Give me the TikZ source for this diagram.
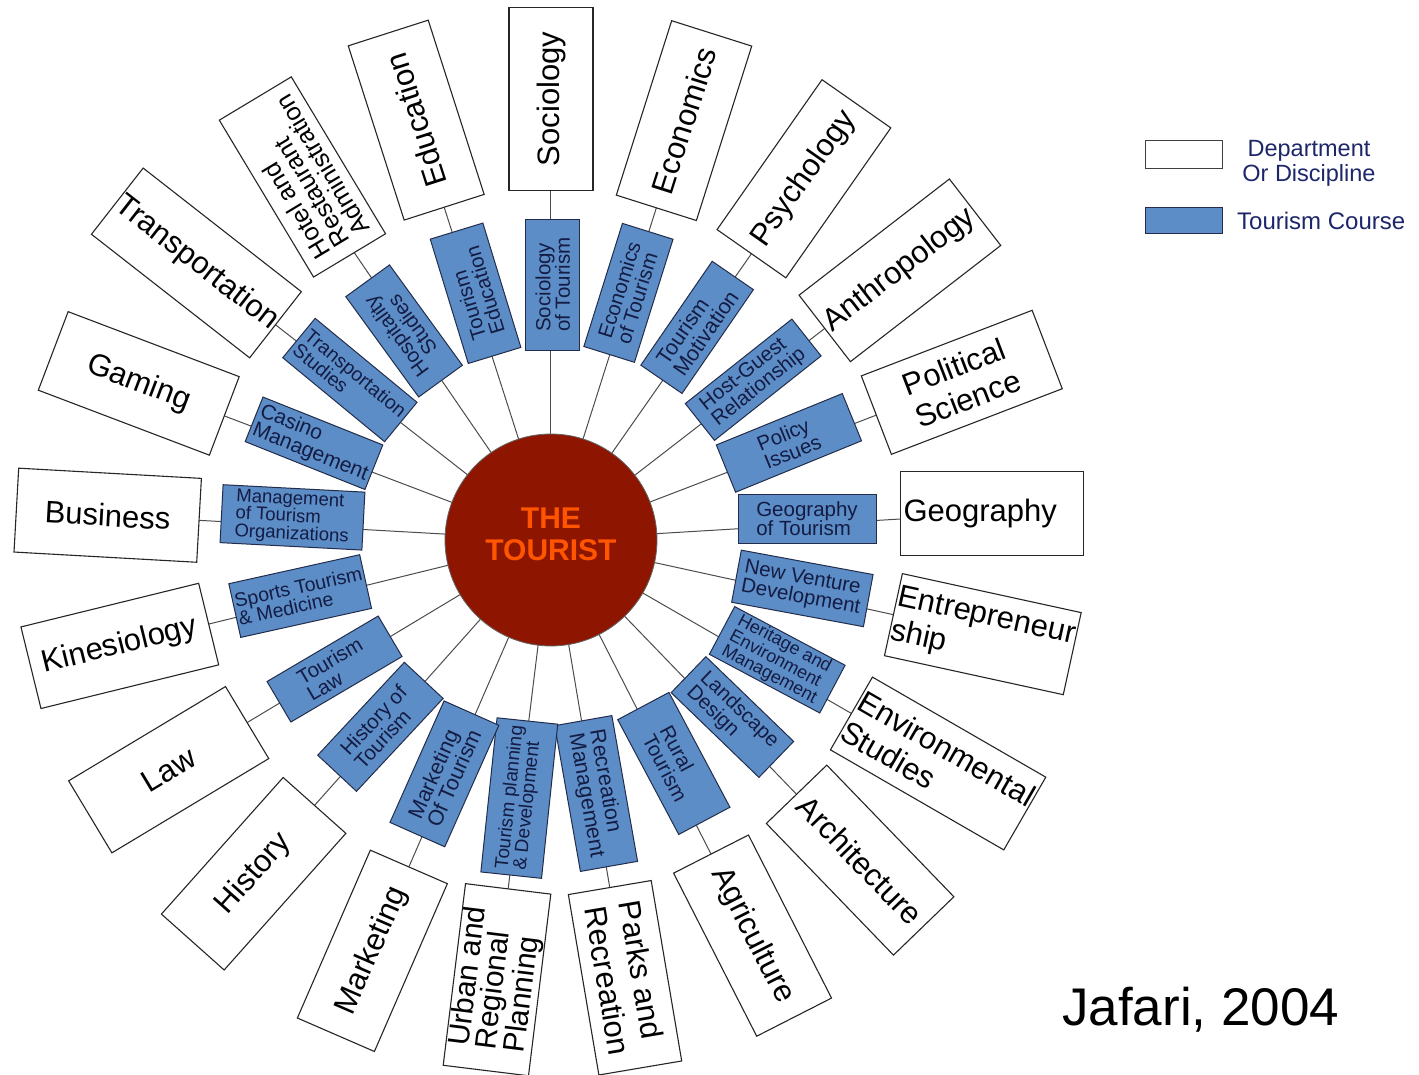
\documentclass[tikz,border=0pt]{standalone}
\usepackage{fontspec}
\setmainfont{Liberation Sans}
\definecolor{bfill}{RGB}{92,141,198}
\definecolor{bdraw}{RGB}{35,45,75}
\definecolor{btext}{RGB}{20,28,68}
\definecolor{tred}{RGB}{142,22,0}
\definecolor{torange}{RGB}{255,84,0}
\definecolor{legtext}{RGB}{28,38,105}
\pgfdeclarelayer{bg}
\pgfsetlayers{bg,main}
\tikzset{
  wbox/.style={draw=black!85, fill=white, line width=1.1pt, minimum width=183pt, minimum height=84pt,
    inner sep=1pt, align=left, font=\fontsize{31}{35}\selectfont, text=black},
  bbox/.style={draw=bdraw, fill=bfill, line width=1pt, minimum width=132pt, minimum height=53pt,
    inner sep=1pt, align=left, font=\fontsize{20.5}{19.5}\selectfont, text=btext},
  spokeline/.style={draw=black!70, line width=1pt},
  legtxt/.style={text=legtext, font=\fontsize{23.5}{25}\selectfont, align=center, inner sep=0pt},
}
\begin{document}
\begin{tikzpicture}[x=1pt,y=1pt]
\useasboundingbox (-551,-534) rectangle (868,540);

% centre
\node[circle, fill=tred, draw=black!60, line width=0.8pt, minimum size=212pt, inner sep=0pt] (c) at (0,0) {};
\node[text=torange, font=\bfseries\fontsize{30}{32}\selectfont, align=center, inner sep=0pt] (ct) at (0,6) {THE\\TOURIST};

% departments (white)
\node[wbox, rotate=90] (wsoc) at (90:441) {Sociology};
\node[wbox, rotate=72.4] (weco) at (72.4:440) {Economics};
\node[wbox, rotate=55] (wpsy) at (55:441) {Psychology};
\node[wbox, rotate=37.7, minimum width=190pt] (want) at (37.7:441) {Anthropology};
\node[wbox, rotate=21] (wpol) at (21:440) {Political\\Science};
\node[wbox, text width=177pt, inner xsep=3pt] (wgeo) at (441,26.5) {Geography};
\node[wbox, rotate=-12.3] (went) at (-12.3:442) {Entrepreneur\\ship};
\node[wbox, rotate=-30, minimum width=200pt] (wenv) at (-30:447) {Environmental\\Studies};
\node[wbox, rotate=-46] (warc) at (-46:445) {Architecture};
\node[wbox, rotate=-63] (wagr) at (-63:444) {Agriculture};
\node[wbox, rotate=-80.4] (wpar) at (-80.4:444) {Parks and\\Recreation};
\node[wbox, rotate=83, font=\fontsize{30}{27}\selectfont] (wurb) at (-97:443) {Urban and\\Regional\\Planning};
\node[wbox, rotate=66.5] (wmkt) at (-113.5:448) {Marketing};
\node[wbox, rotate=48.3] (whis) at (-131.7:447) {History};
\node[wbox, rotate=31] (wlaw) at (-149:446) {Law};
\node[wbox, rotate=13.8] (wkin) at (-166.2:444) {Kinesiology};
\node[wbox, rotate=-3.2] (wbus) at (176.8:444) {Business};
\node[wbox, rotate=-20.8] (wgam) at (159.2:441) {Gaming};
\node[wbox, rotate=-38, minimum width=196pt] (wtra) at (142:450) {Transportation};
\node[wbox, rotate=121, font=\fontsize{25}{23}\selectfont] (whot) at (124.4:440) {Hotel and\\Restaurant\\Administration};
\node[wbox, rotate=107.8] (wedu) at (107.8:441) {Education};

% tourism courses (blue)
\node[bbox, rotate=90, minimum width=131pt, minimum height=54pt] (bsoc) at (89.6:255.5) {Sociology\\of Tourism};
\node[bbox, rotate=72.6, minimum width=129pt] (beco) at (72.6:259) {Economics\\of Tourism};
\node[bbox, rotate=55.5, minimum width=126pt, minimum height=50pt, font=\fontsize{21.5}{20.5}\selectfont] (bpsy) at (55.5:258) {Tourism\\Motivation};
\node[bbox, rotate=38.4, minimum width=136pt, minimum height=47pt] (bant) at (38.4:258) {Host-Guest\\Relationship};
\node[bbox, rotate=22.2, minimum width=136pt, minimum height=51pt] (bpol) at (22.2:257) {Policy\\Issues};
\node[bbox, minimum width=138pt, minimum height=49pt] (bgeo) at (256,21.5) {Geography\\of Tourism};
\node[bbox, rotate=-10.5, minimum width=134pt] (bent) at (-10.9:256) {New Venture\\Development};
\node[bbox, rotate=-28, minimum width=125pt, minimum height=54pt, font=\fontsize{18}{16.5}\selectfont] (benv) at (-27.9:256) {Heritage and\\Environment\\Management};
\node[bbox, rotate=-44, minimum width=122pt, minimum height=50pt] (barc) at (-44.3:253.5) {Landscape\\Design};
\node[bbox, rotate=-62, minimum width=130pt, minimum height=58pt] (bagr) at (-61.2:255) {Rural\\Tourism};
\node[bbox, rotate=-80, minimum width=148pt, minimum height=58pt, font=\fontsize{21.5}{21}\selectfont] (bpar) at (-79.9:257.5) {Recreation\\Management};
\node[bbox, rotate=84, minimum width=155pt, minimum height=61pt, font=\fontsize{19}{18}\selectfont] (burb) at (-97:260) {Tourism planning\\\& Development};
\node[bbox, rotate=66, minimum width=133pt, minimum height=60pt, font=\fontsize{21.5}{20.5}\selectfont] (bmkt) at (-114.5:257) {Marketing\\Of Tourism};
\node[bbox, rotate=47, minimum width=127pt] (bhis) at (-132.4:253) {History of\\Tourism};
\node[bbox, rotate=30.5, minimum width=129pt, minimum height=47pt] (blaw) at (-149.2:252) {Tourism\\Law};
\node[bbox, rotate=12.5, minimum width=134pt, minimum height=55pt, font=\fontsize{19.5}{18.5}\selectfont] (bkin) at (-167.4:257) {Sports Tourism\\\& Medicine};
\node[bbox, rotate=-3, minimum width=142pt, minimum height=58pt, font=\fontsize{18.5}{17.5}\selectfont] (bbus) at (175:259.5) {Management\\of Tourism\\Organizations};
\node[bbox, rotate=-21.8, minimum width=129pt, minimum height=48pt, font=\fontsize{21}{20}\selectfont] (bgam) at (157.8:256) {Casino\\Management};
\node[bbox, rotate=-39.5, minimum width=132pt, minimum height=51pt, font=\fontsize{19.5}{18.5}\selectfont] (btra) at (141.5:257) {Transportation\\Studies};
\node[bbox, rotate=126, minimum width=124pt, minimum height=54pt, align=center] (bhot) at (125.1:255.5) {Hospitality\\Studies};
\node[bbox, rotate=107, minimum width=130pt, minimum height=55pt] (bedu) at (107:258) {Tourism\\Education};

% spokes
\begin{pgfonlayer}{bg}
\foreach \n in {soc,eco,psy,ant,pol,geo,ent,env,arc,agr,par,urb,mkt,his,law,kin,bus,gam,tra,hot,edu}
  \draw[spokeline] (c.center) -- (w\n.center);
\end{pgfonlayer}

% legend
\node[draw=black!75, fill=white, line width=1pt, minimum width=77pt, minimum height=28pt, inner sep=0pt] (lw) at (632.5,385) {};
\node[legtxt] (lwt) at (758,377) {Department\\Or Discipline};
\node[draw=bdraw, fill=bfill, line width=1pt, minimum width=77pt, minimum height=26pt, inner sep=0pt] (lb) at (632.5,319) {};
\node[legtxt, anchor=west, font=\fontsize{24}{26}\selectfont] (lbt) at (686,319) {Tourism Course};

% source
\node[anchor=base west, inner sep=0pt, font=\fontsize{53}{60}\selectfont] (src) at (511,-485) {Jafari, 2004};
\end{tikzpicture}
\end{document}
